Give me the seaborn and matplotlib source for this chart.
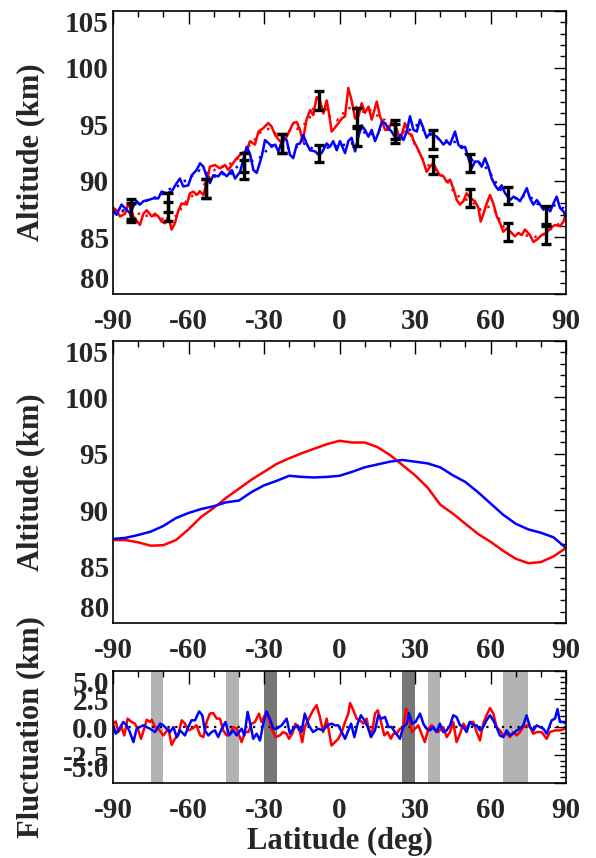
import numpy as np
import pandas as pd
import matplotlib
matplotlib.use("Agg")
import matplotlib.pyplot as plt
import seaborn as sns

# ---- top panel: measured altitude profiles (noisy) ----
red_lat = [-89.9, -88.6, -87.2, -85.2, -83.9, -81.9, -79.3, -77.9, -76.6, -74.6, -73.3, -72.0,
           -70.7, -69.3, -68.0, -66.7, -65.4, -64.0, -62.7, -60.7, -59.4, -58.1, -56.8, -55.4,
           -54.1, -52.8, -51.5, -49.5, -47.5, -45.5, -44.2, -42.8, -40.9, -38.9, -36.9, -35.6,
           -33.6, -32.2, -30.3, -28.3, -27.0, -25.6, -23.7, -22.3, -21.0, -19.7, -18.4, -17.0,
           -15.7, -14.6, -13.1, -11.7, -10.4, -9.1, -7.8, -6.4, -5.1, -4.4, -3.1, -1.1,
           0.9, 2.2, 3.5, 4.8, 6.2, 7.5, 8.8, 10.1, 11.5, 12.8, 14.8, 16.1,
           18.1, 19.4, 20.7, 22.7, 24.1, 26.0, 27.4, 28.7, 29.3, 30.7, 32.0, 33.3,
           34.6, 36.0, 37.3, 38.6, 39.9, 41.3, 42.6, 43.9, 45.2, 46.6, 47.9, 49.2,
           50.5, 51.9, 53.8, 55.2, 56.1, 57.2, 58.5, 59.8, 61.1, 62.5, 63.8, 65.1,
           66.4, 68.4, 69.7, 71.1, 72.4, 73.7, 75.7, 77.0, 78.4, 80.3, 82.3, 83.7,
           85.6, 87.6, 89.0, 89.9]
red_alt = [87.6, 87.4, 86.85, 87.1, 88.0, 86.85, 86.1, 87.1, 87.4, 86.85, 87.1, 86.85,
           86.4, 86.25, 86.85, 85.7, 86.25, 87.4, 88.0, 87.9, 88.9, 89.05, 88.75, 89.05,
           88.75, 89.8, 91.25, 91.4, 91.1, 91.4, 90.95, 91.4, 92.0, 92.4, 92.6, 93.5,
           93.2, 94.35, 94.65, 95.1, 94.8, 94.05, 93.5, 93.5, 93.9, 94.5, 95.1, 95.2,
           94.5, 93.5, 95.4, 96.25, 95.8, 97.4, 97.1, 95.95, 97.1, 96.25, 94.35, 94.9,
           95.5, 95.7, 98.2, 97.1, 95.5, 95.7, 96.85, 96.0, 96.55, 95.4, 97.0, 95.7,
           94.5, 94.5, 95.2, 94.6, 93.6, 95.1, 94.2, 94.05, 93.6, 93.0, 92.4, 91.7,
           90.8, 91.25, 91.55, 90.95, 90.5, 90.4, 89.9, 90.1, 89.35, 88.3, 87.9, 88.2,
           88.9, 88.5, 88.2, 87.6, 86.4, 87.1, 88.0, 88.75, 88.0, 86.85, 86.25, 85.5,
           85.8, 85.4, 85.1, 85.4, 85.2, 85.7, 85.2, 84.6, 84.8, 85.2, 85.4, 85.8,
           86.1, 86.0, 86.4, 87.1]

blue_lat = [-89.9, -88.6, -86.6, -84.6, -83.3, -81.9, -80.6, -79.3, -77.9, -76.0, -74.0, -72.0,
            -70.7, -68.7, -66.7, -64.7, -63.4, -62.1, -60.1, -58.7, -56.8, -55.4, -54.1, -52.8,
            -51.5, -50.1, -48.1, -46.8, -44.8, -42.8, -41.5, -39.5, -36.9, -35.6, -34.2, -32.9,
            -30.9, -29.6, -27.6, -27.0, -25.6, -24.3, -22.3, -21.0, -19.7, -18.4, -17.0, -15.7,
            -14.4, -13.1, -11.7, -9.7, -8.4, -7.1, -5.1, -3.8, -2.5, -1.1, 0.2, 2.2,
            3.5, 4.8, 6.2, 7.5, 8.8, 10.1, 11.5, 12.8, 14.1, 15.4, 16.8, 18.1,
            19.4, 20.7, 22.7, 24.1, 25.4, 26.7, 28.0, 29.4, 30.7, 32.0, 33.3, 34.6,
            36.0, 37.3, 38.6, 39.9, 41.3, 42.6, 43.9, 45.9, 47.2, 48.5, 49.9, 51.2,
            52.5, 53.8, 55.2, 56.5, 57.8, 59.1, 60.5, 61.8, 63.1, 64.4, 65.8, 67.8,
            69.1, 70.4, 71.7, 73.1, 74.4, 75.7, 77.0, 78.4, 79.7, 81.0, 82.3, 83.7,
            85.0, 86.3, 87.6, 89.0, 89.9]
blue_alt = [87.3, 87.0, 87.9, 87.45, 87.15, 87.75, 88.2, 87.9, 88.2, 88.3, 88.45, 88.45,
            89.05, 88.9, 89.05, 89.8, 90.2, 89.5, 89.6, 90.5, 90.95, 91.55, 91.25, 90.4,
            89.8, 90.5, 90.4, 90.8, 90.4, 90.95, 90.2, 90.8, 93.0, 92.4, 90.95, 90.7,
            92.15, 93.6, 93.2, 93.0, 93.2, 92.6, 93.8, 93.6, 92.3, 92.0, 93.2, 93.3,
            94.05, 93.3, 92.7, 92.6, 92.3, 92.45, 93.3, 93.0, 93.5, 92.7, 93.5, 92.45,
            93.5, 93.8, 92.6, 93.9, 94.9, 94.5, 93.9, 94.5, 93.5, 94.2, 95.2, 95.1,
            94.65, 94.35, 93.6, 94.05, 93.6, 94.35, 95.7, 94.5, 94.35, 95.4, 94.65, 93.8,
            94.2, 94.05, 93.9, 93.6, 93.2, 93.5, 93.2, 94.35, 93.2, 92.9, 93.0, 92.0,
            91.1, 91.7, 91.7, 91.25, 92.0, 91.25, 90.2, 89.6, 89.2, 89.6, 88.9, 88.3,
            88.6, 88.45, 88.2, 88.75, 89.35, 88.45, 87.9, 88.3, 87.9, 87.45, 87.75, 87.3,
            88.0, 88.6, 87.6, 87.3, 86.85]

# error bars (every 15 deg)
err_lat = [-83, -68, -53, -38, -23, -8, 7, 22, 37, 52, 67, 82]
red_err_alt = [87.2, 87.3, 89.35, 91.0, 93.3, 97.1, 95.6, 94.2, 91.4, 88.5, 85.45, 85.2]
red_err = [0.85, 0.85, 0.85, 0.85, 0.85, 0.85, 0.8, 0.85, 0.8, 0.8, 0.8, 0.8]
blue_err_alt = [87.5, 88.1, 89.35, 91.6, 93.3, 92.4, 93.9, 94.5, 93.65, 91.6, 88.7, 87.0]
blue_err = [0.85, 0.85, 0.85, 0.85, 0.85, 0.75, 0.8, 0.85, 0.8, 0.8, 0.75, 0.8]

# ---- middle panel: smoothed profiles ----
smooth_lat = list(range(-90, 91, 5))
red_smooth = [87.35, 87.35, 87.15, 86.85, 86.9, 87.35, 88.3, 89.4, 90.2, 91.1, 91.9, 92.7,
              93.4, 94.1, 94.6, 95.05, 95.45, 95.85, 96.15, 96.0, 96.0, 95.6, 94.9, 94.0,
              93.1, 92.0, 90.5, 89.7, 88.8, 87.9, 87.2, 86.4, 85.7, 85.3, 85.4, 85.9, 86.65]
blue_smooth = [87.45, 87.55, 87.8, 88.1, 88.6, 89.3, 89.75, 90.1, 90.35, 90.7, 90.85, 91.6,
               92.2, 92.6, 93.05, 92.95, 92.9, 92.95, 93.05, 93.4, 93.8, 94.05, 94.3, 94.45,
               94.3, 94.15, 93.8, 93.1, 92.5, 91.6, 90.6, 89.6, 88.8, 88.3, 88.0, 87.6, 86.65]

# ---- bottom panel: fluctuations ----
red_fl_lat = [-89.9, -88.9, -87.9, -86.6, -85.5, -84.2, -82.6, -81.3, -79.9, -78.9, -77.6, -76.6,
              -75.3, -74.6, -73.3, -72.0, -70.0, -68.0, -66.7, -65.4, -64.1, -62.7, -61.4, -60.1,
              -58.5, -56.8, -55.4, -54.1, -52.8, -51.5, -50.2, -48.8, -47.5, -46.2, -44.9, -43.5,
              -42.2, -40.9, -38.9, -37.6, -36.2, -34.9, -33.6, -32.0, -31.0, -29.4, -28.1, -27.0,
              -25.4, -23.7, -22.4, -21.0, -20.1, -18.8, -17.5, -15.7, -14.8, -13.8, -12.2, -10.5,
              -9.1, -7.8, -6.5, -5.1, -3.2, -1.8, -0.5, 0.9, 2.2, 3.5, 4.2, 5.5,
              6.8, 8.1, 9.5, 10.8, 11.4, 12.8, 14.1, 15.2, 16.5, 17.8, 19.1, 20.4,
              21.4, 22.7, 24.0, 25.3, 26.4, 27.3, 28.7, 30.0, 31.3, 32.6, 33.9, 35.3,
              36.6, 37.9, 39.2, 41.2, 42.6, 43.9, 45.2, 46.5, 47.9, 49.2, 50.5, 51.8,
              53.2, 54.5, 55.8, 57.1, 58.4, 59.8, 61.1, 62.4, 63.7, 65.1, 66.4, 67.7,
              69.0, 70.4, 71.7, 73.0, 74.3, 75.7, 77.0, 78.3, 80.3, 82.3, 83.6, 85.6,
              87.6, 89.6]
red_fl = [0.3, 0.5, -0.45, 0.0, -0.75, 0.75, 0.45, 0.3, -0.3, -1.05, -0.15, 0.65,
          0.45, 0.65, 0.0, -0.15, -0.75, -0.15, -1.6, -1.05, -0.75, 0.6, 0.3, -0.3,
          -0.15, 0.15, -0.75, -0.9, 0.45, 1.2, 1.25, 0.75, 0.75, -0.3, -0.75, -0.6,
          0.0, -0.15, -1.35, -0.45, -0.45, 0.3, 0.45, 1.2, 0.45, 1.2, 0.75, -0.15,
          -0.9, -0.75, -0.45, -0.6, -1.05, -0.6, 0.3, -0.45, -1.35, 0.0, 0.75, 1.5,
          1.95, 0.9, -0.45, 0.75, -1.65, -1.35, -1.05, -0.45, 0.45, 1.2, 2.15, 1.5,
          0.75, 0.6, 0.3, 0.75, 0.0, -0.75, 1.2, 1.5, 0.45, -0.75, -0.45, -1.05,
          -0.6, -0.6, -0.15, -0.15, 1.65, 1.2, -0.45, -0.15, 0.15, -0.6, -1.35, -0.15,
          0.15, -0.3, -0.45, 0.0, -0.9, -0.45, 0.45, -1.35, -0.6, 0.3, -0.15, 0.45,
          0.45, -0.45, -1.2, 0.3, 1.05, 1.7, 1.2, 0.0, -0.3, -0.75, -0.6, -0.9,
          -0.45, -0.75, -0.45, 0.0, 0.15, 0.0, -0.6, -0.45, -0.45, -1.05, -0.45, -0.3,
          -0.3, -0.15]

blue_fl_lat = [-89.9, -88.9, -87.9, -85.9, -84.6, -83.3, -81.9, -80.6, -79.3, -78.0, -76.6, -75.3,
               -73.3, -71.3, -70.0, -68.7, -67.4, -66.0, -64.7, -63.4, -61.4, -60.1, -58.8, -57.4,
               -55.8, -54.5, -53.5, -52.1, -50.8, -49.5, -48.2, -46.8, -45.3, -43.9, -42.2, -40.9,
               -38.9, -37.8, -36.5, -35.2, -34.3, -32.9, -31.6, -30.3, -29.0, -27.7, -26.3, -25.0,
               -23.0, -21.0, -19.7, -18.4, -16.7, -15.1, -13.8, -12.2, -10.5, -8.5, -6.5, -4.8,
               -3.2, -1.8, -0.5, 0.9, 2.2, 3.5, 4.6, 5.9, 7.2, 8.5, 9.9, 11.2,
               12.5, 14.1, 15.4, 16.7, 18.1, 19.4, 20.7, 22.0, 24.0, 25.3, 26.7, 27.6,
               28.9, 30.2, 32.0, 33.3, 34.6, 35.9, 37.3, 38.6, 39.9, 41.2, 42.6, 43.9,
               45.2, 46.5, 47.9, 49.2, 50.5, 51.8, 53.2, 54.5, 55.8, 57.1, 58.4, 59.8,
               61.1, 62.4, 63.7, 65.1, 66.4, 67.7, 69.0, 70.4, 71.7, 73.0, 74.3, 75.7,
               77.0, 78.3, 79.6, 81.0, 82.3, 84.3, 85.6, 86.6, 87.6, 88.9, 89.6]
blue_fl = [0.15, -0.6, -0.3, 0.45, 0.15, -0.45, -1.35, -0.15, 0.0, 0.15, 0.0, -0.15,
           -0.45, 0.3, 0.15, -0.15, -0.45, 0.0, -0.9, -0.3, -0.75, 0.0, 0.6, 0.6,
           1.4, 1.05, -0.3, -0.75, -0.45, -0.3, -0.9, -0.15, 0.45, -0.75, -0.3, -0.75,
           -0.15, -0.75, 1.35, 0.0, -1.05, -0.6, -1.2, 0.3, 1.4, 0.75, -0.15, -0.15,
           0.15, 0.75, -0.6, -0.15, 0.15, -0.45, 1.2, 0.15, -0.45, -0.15, -0.3, 0.15,
           0.3, 0.15, 0.15, -0.45, -1.05, -0.3, 0.3, -0.9, 0.3, 1.05, 0.6, 0.0,
           -0.9, -0.3, 1.05, 0.75, 0.9, 0.0, 0.0, -0.45, -1.05, 0.0, 0.3, 1.25,
           0.3, 0.45, 1.2, 0.3, -0.15, -0.3, 0.0, -0.45, 0.3, -0.45, -0.3, 0.15,
           1.05, 0.9, 0.15, 0.0, -0.45, 0.45, 0.15, 0.15, -0.3, 0.0, 0.6, 1.05,
           0.6, 0.0, -0.75, -0.9, -0.3, -0.75, -0.6, -0.3, -0.15, 0.15, 1.05, 0.0,
           -0.3, 0.15, 0.0, -0.15, -0.6, 0.6, 0.75, 1.6, 0.45, 0.45, 0.35]

# shaded latitude bands in the fluctuation panel
light_bands = [(-75, -70), (-45, -40), (35, 40), (65, 75)]
dark_bands = [(-30, -25), (25, 30)]

RED = "#ff0000"
BLUE = "#0000ff"

sns.set_style("white")
plt.rcParams["font.family"] = ["Liberation Serif", "DejaVu Serif"]
plt.rcParams["font.weight"] = "bold"
plt.rcParams["axes.unicode_minus"] = False
FS = 21

fig = plt.figure(figsize=(5.96, 8.58), dpi=100)
ax1 = fig.add_axes([0.1896, 0.6573, 0.7601, 0.3299])
ax2 = fig.add_axes([0.1896, 0.2739, 0.7601, 0.3287])
ax3 = fig.add_axes([0.1896, 0.0874, 0.7601, 0.1305])


def style_axis(ax, ymin, ymax, ymajor, yminor, ylabels):
    ax.set_xlim(-90, 90)
    ax.set_ylim(ymin, ymax)
    ax.set_xticks(np.arange(-90, 91, 30))
    ax.set_xticks(np.arange(-90, 91, 10), minor=True)
    ax.set_xticklabels([str(v) for v in range(-90, 91, 30)])
    ax.set_yticks(ymajor)
    ax.set_yticks(yminor, minor=True)
    ax.set_yticklabels(ylabels)
    ax.tick_params(which="both", direction="in", top=True, right=True,
                   color="black", width=1.0)
    ax.tick_params(which="major", length=9)
    ax.tick_params(which="minor", length=4.5)
    ax.tick_params(axis="x", labelsize=FS, pad=10)
    ax.tick_params(axis="y", labelsize=FS, pad=3)
    for lab in ax.get_xticklabels() + ax.get_yticklabels():
        lab.set_fontweight("bold")
    # IDL-style: end labels pulled inside the box
    ylabs = ax.get_yticklabels()
    ylabs[0].set_va("bottom")
    ylabs[-1].set_va("top")
    for sp in ax.spines.values():
        sp.set_linewidth(1.2)
        sp.set_color("black")
    ax.set_xlabel("")
    ax.set_ylabel("")


# top panel
top_red = pd.DataFrame({"lat": red_lat, "alt": red_alt})
top_blue = pd.DataFrame({"lat": blue_lat, "alt": blue_alt})
top_red["dot"] = top_red["alt"].rolling(5, center=True, min_periods=1).mean()
top_blue["dot"] = top_blue["alt"].rolling(5, center=True, min_periods=1).mean()
sns.lineplot(data=top_red, x="lat", y="dot", color=RED, lw=1.8, ls=(0, (1, 2.5)),
             sort=False, estimator=None, ax=ax1)
sns.lineplot(data=top_blue, x="lat", y="dot", color=BLUE, lw=1.8, ls=(0, (1, 2.5)),
             sort=False, estimator=None, ax=ax1)
sns.lineplot(data=top_red, x="lat", y="alt", color=RED, lw=1.8,
             sort=False, estimator=None, ax=ax1)
sns.lineplot(data=top_blue, x="lat", y="alt", color=BLUE, lw=1.8,
             sort=False, estimator=None, ax=ax1)
ax1.errorbar(err_lat, red_err_alt, yerr=red_err, fmt="none", ecolor="black",
             elinewidth=2.4, capsize=3.5, capthick=2.4, zorder=5)
ax1.errorbar(err_lat, blue_err_alt, yerr=blue_err, fmt="none", ecolor="black",
             elinewidth=2.4, capsize=3.5, capthick=2.4, zorder=5)
alt_ticks = [80, 85, 90, 95, 100, 105]
style_axis(ax1, 80, 105, alt_ticks, np.arange(80, 106, 1), [str(v) for v in alt_ticks])
ax1.set_ylabel("Altitude (km)", fontsize=FS + 1, fontweight="bold")

# middle panel
mid = pd.DataFrame({"lat": smooth_lat + smooth_lat,
                    "alt": red_smooth + blue_smooth,
                    "set": ["red"] * len(smooth_lat) + ["blue"] * len(smooth_lat)})
sns.lineplot(data=mid, x="lat", y="alt", hue="set", palette={"red": RED, "blue": BLUE},
             lw=1.8, legend=False, estimator=None, ax=ax2)
style_axis(ax2, 80, 105, alt_ticks, np.arange(80, 106, 1), [str(v) for v in alt_ticks])
ax2.set_ylabel("Altitude (km)", fontsize=FS + 1, fontweight="bold")

# bottom panel
for a, b in light_bands:
    ax3.axvspan(a, b, color="#b3b3b3", lw=0, zorder=0)
for a, b in dark_bands:
    ax3.axvspan(a, b, color="#777777", lw=0, zorder=0)
ax3.axhline(0, color="black", lw=1.6, ls=(0, (1, 2.5)), zorder=1)
fl_red = pd.DataFrame({"lat": red_fl_lat, "d": red_fl})
fl_blue = pd.DataFrame({"lat": blue_fl_lat, "d": blue_fl})
sns.lineplot(data=fl_red, x="lat", y="d", color=RED, lw=1.8, sort=False,
             estimator=None, ax=ax3)
sns.lineplot(data=fl_blue, x="lat", y="d", color=BLUE, lw=1.8, sort=False,
             estimator=None, ax=ax3)
fl_ticks = [-5.0, -2.5, 0.0, 2.5, 5.0]
style_axis(ax3, -5, 5, fl_ticks, np.arange(-5, 5.01, 0.5), ["%.1f" % v for v in fl_ticks])
ax3.set_ylabel("Fluctuation (km)", fontsize=FS + 1, fontweight="bold")
ax3.set_xlabel("Latitude (deg)", fontsize=FS + 1, fontweight="bold", labelpad=2)

for ax in (ax1, ax2, ax3):
    ax.yaxis.set_label_coords(-0.15, 0.5)

fig.savefig("out.png", dpi=100)
